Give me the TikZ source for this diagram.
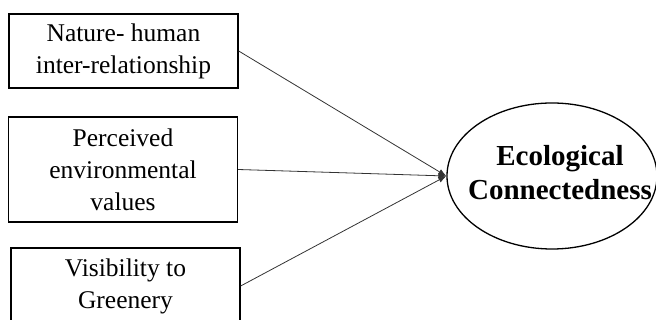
\documentclass[tikz,border=0pt]{standalone}
\usepackage{fontspec}
\setmainfont{Liberation Serif}
\usetikzlibrary{arrows.meta,positioning,shapes.geometric}

\begin{document}
\begin{tikzpicture}[x=1pt, y=-1pt, >={Latex[length=8pt,width=6pt]},
  factor/.style={draw=black, line width=1.3pt, inner sep=0pt, align=center, minimum width=229pt,
    font=\fontsize{25.5}{32}\selectfont},
  latent/.style={ellipse, draw=black, line width=1.3pt, minimum width=210pt, minimum height=146pt, inner sep=0pt},
  path/.style={->, line width=0.8pt, draw=black!80}]
\useasboundingbox (0,0) rectangle (656,320);
\node[factor, minimum height=74pt] (nhr) at (123.5,51) {Nature- human\\inter-relationship};
\node[factor, minimum height=105pt] (pev) at (123,169.5) {Perceived\\environmental\\values};
\node[factor, minimum height=76pt] (vtg) at (125.5,286) {Visibility to\\Greenery};
\node[latent] (eco) at (552,176) {};
\node[font=\fontsize{29}{34}\selectfont\bfseries, align=center] (ecotxt) at (560,173) {Ecological\\Connectedness};
\foreach \n in {nhr, pev, vtg}
  \draw[path] (\n.east) -- (eco.west);
\end{tikzpicture}
\end{document}
